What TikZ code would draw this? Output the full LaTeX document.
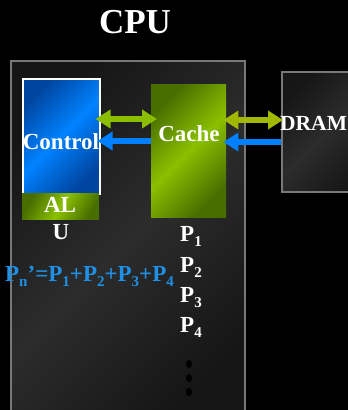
\documentclass[tikz,border=0pt]{standalone}
\usepackage{fontspec}
\setmainfont{Liberation Serif}
\usetikzlibrary{arrows.meta,positioning}

\definecolor{cpuedge}{RGB}{120,120,120}
\definecolor{cpudark}{RGB}{22,22,22}
\definecolor{cpulight}{RGB}{44,44,44}
\definecolor{ctrldark}{RGB}{0,70,160}
\definecolor{ctrllight}{RGB}{0,130,255}
\definecolor{cachedark}{RGB}{72,110,0}
\definecolor{cachelight}{RGB}{138,192,0}
\definecolor{greenleft}{RGB}{140,190,0}
\definecolor{greenright}{RGB}{160,185,0}
\definecolor{bluearrow}{RGB}{0,128,255}
\definecolor{sumblue}{RGB}{30,144,230}

\newcommand{\psub}[1]{\raisebox{-5pt}{\fontsize{15}{15}\selectfont #1}}

\begin{document}
\begin{tikzpicture}[x=1pt, y=-1pt,
	box/.style={rectangle, inner sep=0pt, anchor=north west},
	lbl/.style={text=white, font=\fontsize{23}{23}\selectfont\bfseries, anchor=base, inner sep=0pt},
	twoway/.style={line width=6pt, {Triangle[width=18pt,length=15pt]}-{Triangle[width=18pt,length=15pt]}},
	oneway/.style={line width=6pt, draw=bluearrow, -{Triangle[width=18pt,length=15pt]}}]

	\path[use as bounding box, fill=black] (0,0) rectangle (348,410);

	% boxes
	\node[box, minimum width=234, minimum height=360, draw=cpuedge, line width=1.5pt,
		top color=cpudark, bottom color=cpudark, middle color=cpulight, shading angle=45] (cpu) at (10,60) {};
	\node[box, minimum width=90, minimum height=120, draw=cpuedge, line width=1.5pt,
		top color=cpudark, bottom color=cpudark, middle color=cpulight, shading angle=45] (dram) at (281,71) {};
	\node[box, minimum width=77, minimum height=115, draw=white, line width=1.5pt,
		top color=ctrldark, bottom color=ctrldark, middle color=ctrllight, shading angle=45] (ctrl) at (22,78) {};
	\node[box, minimum width=77, minimum height=26,
		top color=cachedark, bottom color=cachedark, middle color=cachelight, shading angle=60] (alu) at (22,193) {};
	\node[box, minimum width=75, minimum height=133,
		top color=cachedark, bottom color=cachedark, middle color=cachelight, shading angle=45] (cache) at (151,84) {};

	% texts
	\node[lbl, font=\fontsize{35}{35}\selectfont\bfseries] (title) at (135,33) {CPU};
	\node[lbl] (ctrltext) at (61,149) {Control};
	\node[lbl] (cachetext) at (189,141) {Cache};
	\node[lbl, anchor=base west, font=\fontsize{21.5}{21.5}\selectfont\bfseries] (dramtext) at (280,130) {DRAM};
	\node[lbl] (altext) at (60,212) {AL};
	\node[lbl] (utext) at (61,239) {U};
	\foreach \i/\y in {1/241,2/272,3/302,4/332}
		\node[lbl, anchor=base west] (p\i) at (180,\y) {P\psub{\i}};
	\node[lbl, anchor=base west, text=sumblue] (sum) at (5,281)
		{P\psub{n}’=P\psub{1}+P\psub{2}+P\psub{3}+P\psub{4}};

	% dots
	\foreach \y in {364,378,392}
		\fill[black] (189,\y) ellipse (3 and 4);

	% arrows
	\draw[twoway, draw=greenleft, shorten <=-5pt, shorten >=-6pt] (ctrl.east |- 0,119) -- (cache.west |- 0,119);
	\draw[oneway, shorten >=-3pt] (cache.west |- 0,141) -- (ctrl.east |- 0,141);
	\draw[twoway, draw=greenright, shorten <=-3pt, shorten >=-2pt] (cache.east |- 0,120) -- (dram.west |- 0,120);
	\draw[oneway, shorten >=-3pt] (dram.west |- 0,142) -- (cache.east |- 0,142);

\end{tikzpicture}
\end{document}
